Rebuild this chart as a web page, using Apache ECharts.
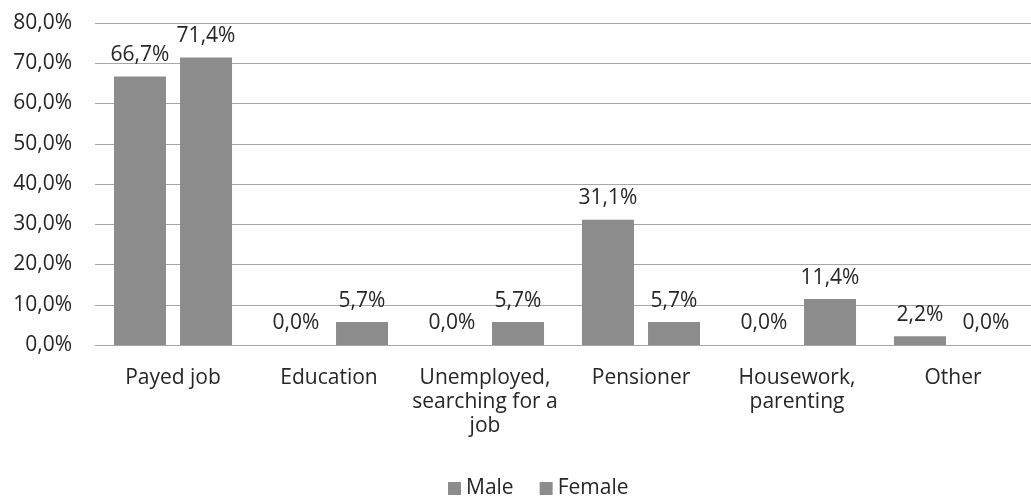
<!DOCTYPE html>
<html>
<head>
<meta charset="utf-8">
<style>
  html, body { margin: 0; padding: 0; background: #ffffff; }
  #chart { width: 1031px; height: 498px; }
</style>
<script src="https://cdn.jsdelivr.net/npm/echarts@6/dist/echarts.min.js"></script>
</head>
<body>
<div id="chart"></div>
<script>
// Main activity by sex, share of respondents (%)
const categories = ['Payed job', 'Education', 'Unemployed,\nsearching for a\njob', 'Pensioner', 'Housework,\nparenting', 'Other'];
const maleValues = [66.7, 0.0, 0.0, 31.1, 0.0, 2.2];
const femaleValues = [71.4, 5.7, 5.7, 5.7, 11.4, 0.0];
const seriesNames = ['Male', 'Female'];
const yTicks = { min: 0, max: 80, interval: 10 };

const FONT = 'Open Sans';
const TEXT = '#262626';
const BAR = '#8c8c8c';

const fmtPct = v => v.toFixed(1).replace('.', ',') + '%';

const chart = echarts.init(document.getElementById('chart'), null, { renderer: 'canvas' });

const barLabel = {
  show: true,
  position: 'top',
  distance: 11,
  fontFamily: FONT,
  fontSize: 21,
  color: TEXT,
  formatter: p => fmtPct(p.value)
};

chart.setOption({
  animation: false,
  textStyle: { fontFamily: FONT },
  grid: { left: 95, top: 23, width: 948, height: 322, containLabel: false },
  legend: {
    top: 473,
    left: 443,
    itemWidth: 13,
    itemHeight: 13,
    itemGap: 26,
    icon: 'rect',
    textStyle: { fontFamily: FONT, fontSize: 21, color: TEXT },
    data: seriesNames
  },
  xAxis: {
    type: 'category',
    data: categories,
    axisLine: { show: false },
    axisTick: { show: false },
    axisLabel: {
      interval: 0,
      margin: 21,
      fontFamily: FONT,
      fontSize: 21,
      lineHeight: 24,
      color: TEXT
    }
  },
  yAxis: {
    type: 'value',
    min: yTicks.min,
    max: yTicks.max,
    interval: yTicks.interval,
    axisLine: { show: false },
    axisTick: { show: false },
    axisLabel: {
      margin: 23,
      fontFamily: FONT,
      fontSize: 21,
      color: TEXT,
      formatter: v => fmtPct(v)
    },
    splitLine: { lineStyle: { color: '#a6a6a6', width: 1 } }
  },
  series: [
    {
      name: seriesNames[0],
      type: 'bar',
      data: maleValues,
      barWidth: 52,
      barGap: '27%',
      itemStyle: { color: BAR },
      label: barLabel
    },
    {
      name: seriesNames[1],
      type: 'bar',
      data: femaleValues,
      barWidth: 52,
      itemStyle: { color: BAR },
      label: barLabel
    }
  ]
});
</script>
</body>
</html>
